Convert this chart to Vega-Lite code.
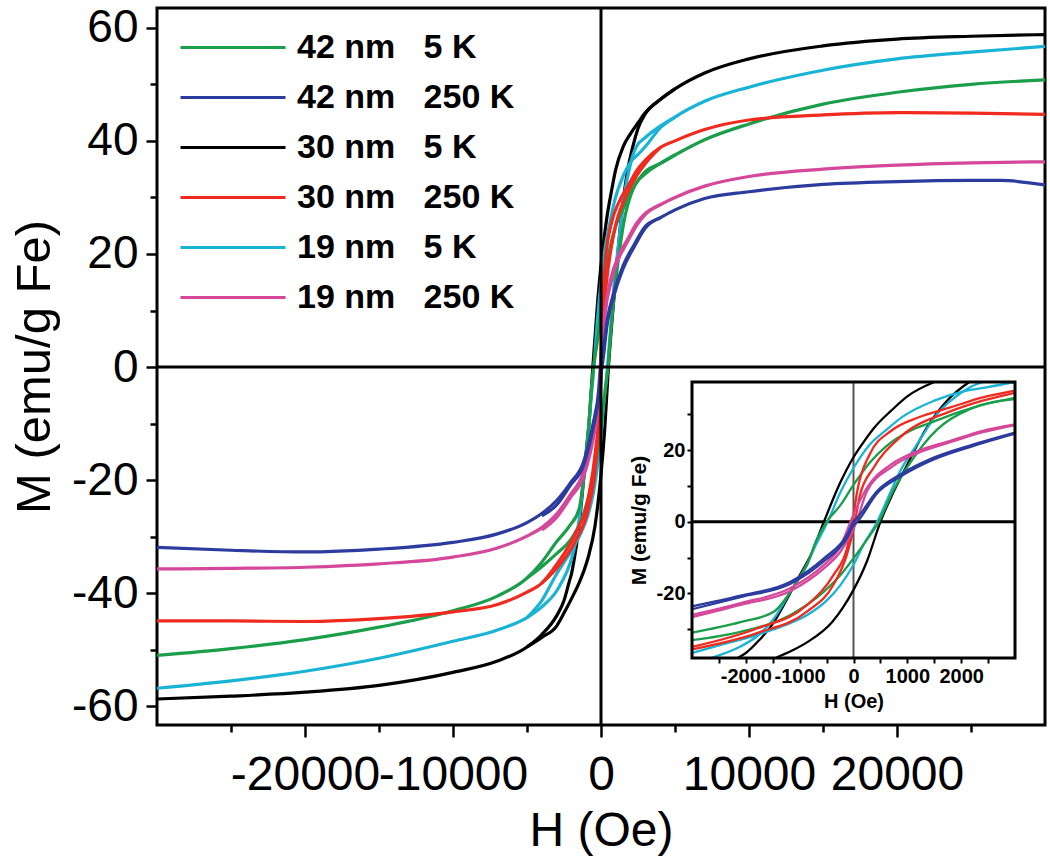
{
"$schema": "https://vega.github.io/schema/vega-lite/v6.json",
"width": 888, "height": 717,
"autosize": "none",
"padding": {"left": 157, "top": 8, "right": 5, "bottom": 140},
"config": {"font": "Liberation Sans", "view": {"stroke": "black", "strokeWidth": 3}, "axis": {"grid": false, "domain": false, "tickColor": "black", "labelColor": "black", "titleColor": "black"}},
"datasets": {"loops": [
{"s":"30 nm\u00a0\u00a0 5 K","b":"d","H":30000,"M":58.8},{"s":"30 nm\u00a0\u00a0 5 K","b":"d","H":25000,"M":58.5},{"s":"30 nm\u00a0\u00a0 5 K","b":"d","H":20000,"M":58.0},{"s":"30 nm\u00a0\u00a0 5 K","b":"d","H":15000,"M":56.8},{"s":"30 nm\u00a0\u00a0 5 K","b":"d","H":10000,"M":54.5},{"s":"30 nm\u00a0\u00a0 5 K","b":"d","H":7000,"M":52},{"s":"30 nm\u00a0\u00a0 5 K","b":"d","H":5000,"M":49.2},{"s":"30 nm\u00a0\u00a0 5 K","b":"d","H":4000,"M":47.3},{"s":"30 nm\u00a0\u00a0 5 K","b":"d","H":3000,"M":45},{"s":"30 nm\u00a0\u00a0 5 K","b":"d","H":2500,"M":43.2},{"s":"30 nm\u00a0\u00a0 5 K","b":"d","H":2000,"M":41.3},{"s":"30 nm\u00a0\u00a0 5 K","b":"d","H":1500,"M":39},{"s":"30 nm\u00a0\u00a0 5 K","b":"d","H":1000,"M":35},{"s":"30 nm\u00a0\u00a0 5 K","b":"d","H":700,"M":31},{"s":"30 nm\u00a0\u00a0 5 K","b":"d","H":400,"M":26.5},{"s":"30 nm\u00a0\u00a0 5 K","b":"d","H":200,"M":22.5},{"s":"30 nm\u00a0\u00a0 5 K","b":"d","H":0,"M":18},{"s":"30 nm\u00a0\u00a0 5 K","b":"d","H":-250,"M":10.8},{"s":"30 nm\u00a0\u00a0 5 K","b":"d","H":-550,"M":0},{"s":"30 nm\u00a0\u00a0 5 K","b":"d","H":-800,"M":-9.5},{"s":"30 nm\u00a0\u00a0 5 K","b":"d","H":-1000,"M":-15},{"s":"30 nm\u00a0\u00a0 5 K","b":"d","H":-1250,"M":-22},{"s":"30 nm\u00a0\u00a0 5 K","b":"d","H":-1500,"M":-28.5},{"s":"30 nm\u00a0\u00a0 5 K","b":"d","H":-1750,"M":-33},{"s":"30 nm\u00a0\u00a0 5 K","b":"d","H":-2000,"M":-36.6},{"s":"30 nm\u00a0\u00a0 5 K","b":"d","H":-2150,"M":-38},{"s":"30 nm\u00a0\u00a0 5 K","b":"d","H":-2500,"M":-41.3},{"s":"30 nm\u00a0\u00a0 5 K","b":"d","H":-3000,"M":-44},{"s":"30 nm\u00a0\u00a0 5 K","b":"d","H":-4000,"M":-47.3},{"s":"30 nm\u00a0\u00a0 5 K","b":"d","H":-5000,"M":-49.5},{"s":"30 nm\u00a0\u00a0 5 K","b":"d","H":-7000,"M":-52},{"s":"30 nm\u00a0\u00a0 5 K","b":"d","H":-10000,"M":-54},{"s":"30 nm\u00a0\u00a0 5 K","b":"d","H":-15000,"M":-56.3},{"s":"30 nm\u00a0\u00a0 5 K","b":"d","H":-20000,"M":-57.5},{"s":"30 nm\u00a0\u00a0 5 K","b":"d","H":-25000,"M":-58.2},{"s":"30 nm\u00a0\u00a0 5 K","b":"d","H":-30000,"M":-58.7},
{"s":"30 nm\u00a0\u00a0 5 K","b":"a","H":-5000,"M":-49.5},{"s":"30 nm\u00a0\u00a0 5 K","b":"a","H":-4000,"M":-47.8},{"s":"30 nm\u00a0\u00a0 5 K","b":"a","H":-3000,"M":-45.8},{"s":"30 nm\u00a0\u00a0 5 K","b":"a","H":-2500,"M":-43.5},{"s":"30 nm\u00a0\u00a0 5 K","b":"a","H":-2000,"M":-41},{"s":"30 nm\u00a0\u00a0 5 K","b":"a","H":-1450,"M":-38},{"s":"30 nm\u00a0\u00a0 5 K","b":"a","H":-1150,"M":-36},{"s":"30 nm\u00a0\u00a0 5 K","b":"a","H":-850,"M":-33.5},{"s":"30 nm\u00a0\u00a0 5 K","b":"a","H":-400,"M":-28},{"s":"30 nm\u00a0\u00a0 5 K","b":"a","H":-200,"M":-24},{"s":"30 nm\u00a0\u00a0 5 K","b":"a","H":0,"M":-19},{"s":"30 nm\u00a0\u00a0 5 K","b":"a","H":250,"M":-11},{"s":"30 nm\u00a0\u00a0 5 K","b":"a","H":500,"M":0},{"s":"30 nm\u00a0\u00a0 5 K","b":"a","H":750,"M":8.5},{"s":"30 nm\u00a0\u00a0 5 K","b":"a","H":1000,"M":16},{"s":"30 nm\u00a0\u00a0 5 K","b":"a","H":1350,"M":26},{"s":"30 nm\u00a0\u00a0 5 K","b":"a","H":1750,"M":34},{"s":"30 nm\u00a0\u00a0 5 K","b":"a","H":2150,"M":39},{"s":"30 nm\u00a0\u00a0 5 K","b":"a","H":2500,"M":42.2},{"s":"30 nm\u00a0\u00a0 5 K","b":"a","H":3000,"M":44.8},{"s":"30 nm\u00a0\u00a0 5 K","b":"a","H":4000,"M":47.3},{"s":"30 nm\u00a0\u00a0 5 K","b":"a","H":5000,"M":49.2},
{"s":"19 nm\u00a0\u00a0 5 K","b":"d","H":30000,"M":56.7},{"s":"19 nm\u00a0\u00a0 5 K","b":"d","H":25000,"M":55.7},{"s":"19 nm\u00a0\u00a0 5 K","b":"d","H":20000,"M":54.5},{"s":"19 nm\u00a0\u00a0 5 K","b":"d","H":15000,"M":52.5},{"s":"19 nm\u00a0\u00a0 5 K","b":"d","H":10000,"M":49.5},{"s":"19 nm\u00a0\u00a0 5 K","b":"d","H":7000,"M":47},{"s":"19 nm\u00a0\u00a0 5 K","b":"d","H":5000,"M":44.2},{"s":"19 nm\u00a0\u00a0 5 K","b":"d","H":4000,"M":42.3},{"s":"19 nm\u00a0\u00a0 5 K","b":"d","H":3000,"M":39},{"s":"19 nm\u00a0\u00a0 5 K","b":"d","H":2500,"M":37.6},{"s":"19 nm\u00a0\u00a0 5 K","b":"d","H":2100,"M":36.6},{"s":"19 nm\u00a0\u00a0 5 K","b":"d","H":1500,"M":33.8},{"s":"19 nm\u00a0\u00a0 5 K","b":"d","H":900,"M":29.2},{"s":"19 nm\u00a0\u00a0 5 K","b":"d","H":600,"M":25.5},{"s":"19 nm\u00a0\u00a0 5 K","b":"d","H":300,"M":21.5},{"s":"19 nm\u00a0\u00a0 5 K","b":"d","H":0,"M":15},{"s":"19 nm\u00a0\u00a0 5 K","b":"d","H":-250,"M":8},{"s":"19 nm\u00a0\u00a0 5 K","b":"d","H":-480,"M":0},{"s":"19 nm\u00a0\u00a0 5 K","b":"d","H":-700,"M":-6.5},{"s":"19 nm\u00a0\u00a0 5 K","b":"d","H":-870,"M":-12},{"s":"19 nm\u00a0\u00a0 5 K","b":"d","H":-1000,"M":-15.5},{"s":"19 nm\u00a0\u00a0 5 K","b":"d","H":-1170,"M":-19.5},{"s":"19 nm\u00a0\u00a0 5 K","b":"d","H":-1480,"M":-27},{"s":"19 nm\u00a0\u00a0 5 K","b":"d","H":-1800,"M":-32},{"s":"19 nm\u00a0\u00a0 5 K","b":"d","H":-2100,"M":-34.8},{"s":"19 nm\u00a0\u00a0 5 K","b":"d","H":-2650,"M":-38},{"s":"19 nm\u00a0\u00a0 5 K","b":"d","H":-3000,"M":-39.6},{"s":"19 nm\u00a0\u00a0 5 K","b":"d","H":-4000,"M":-42.4},{"s":"19 nm\u00a0\u00a0 5 K","b":"d","H":-5000,"M":-44.3},{"s":"19 nm\u00a0\u00a0 5 K","b":"d","H":-7000,"M":-46.5},{"s":"19 nm\u00a0\u00a0 5 K","b":"d","H":-10000,"M":-48.5},{"s":"19 nm\u00a0\u00a0 5 K","b":"d","H":-15000,"M":-51.5},{"s":"19 nm\u00a0\u00a0 5 K","b":"d","H":-20000,"M":-53.8},{"s":"19 nm\u00a0\u00a0 5 K","b":"d","H":-25000,"M":-55.5},{"s":"19 nm\u00a0\u00a0 5 K","b":"d","H":-30000,"M":-56.8},
{"s":"19 nm\u00a0\u00a0 5 K","b":"a","H":-5000,"M":-44.3},{"s":"19 nm\u00a0\u00a0 5 K","b":"a","H":-4000,"M":-41.3},{"s":"19 nm\u00a0\u00a0 5 K","b":"a","H":-3000,"M":-36.6},{"s":"19 nm\u00a0\u00a0 5 K","b":"a","H":-2500,"M":-34.5},{"s":"19 nm\u00a0\u00a0 5 K","b":"a","H":-1800,"M":-31.6},{"s":"19 nm\u00a0\u00a0 5 K","b":"a","H":-1300,"M":-29},{"s":"19 nm\u00a0\u00a0 5 K","b":"a","H":-860,"M":-26},{"s":"19 nm\u00a0\u00a0 5 K","b":"a","H":-500,"M":-22},{"s":"19 nm\u00a0\u00a0 5 K","b":"a","H":-240,"M":-17.6},{"s":"19 nm\u00a0\u00a0 5 K","b":"a","H":0,"M":-12},{"s":"19 nm\u00a0\u00a0 5 K","b":"a","H":200,"M":-6},{"s":"19 nm\u00a0\u00a0 5 K","b":"a","H":440,"M":0},{"s":"19 nm\u00a0\u00a0 5 K","b":"a","H":650,"M":7},{"s":"19 nm\u00a0\u00a0 5 K","b":"a","H":870,"M":14.2},{"s":"19 nm\u00a0\u00a0 5 K","b":"a","H":1180,"M":21.6},{"s":"19 nm\u00a0\u00a0 5 K","b":"a","H":1550,"M":30},{"s":"19 nm\u00a0\u00a0 5 K","b":"a","H":2000,"M":36},{"s":"19 nm\u00a0\u00a0 5 K","b":"a","H":2200,"M":37.8},{"s":"19 nm\u00a0\u00a0 5 K","b":"a","H":2400,"M":39},{"s":"19 nm\u00a0\u00a0 5 K","b":"a","H":3000,"M":40.6},{"s":"19 nm\u00a0\u00a0 5 K","b":"a","H":4000,"M":42.6},{"s":"19 nm\u00a0\u00a0 5 K","b":"a","H":5000,"M":44.2},
{"s":"42 nm\u00a0\u00a0 5 K","b":"d","H":30000,"M":50.8},{"s":"42 nm\u00a0\u00a0 5 K","b":"d","H":25000,"M":50},{"s":"42 nm\u00a0\u00a0 5 K","b":"d","H":20000,"M":48.6},{"s":"42 nm\u00a0\u00a0 5 K","b":"d","H":15000,"M":46.5},{"s":"42 nm\u00a0\u00a0 5 K","b":"d","H":10000,"M":43},{"s":"42 nm\u00a0\u00a0 5 K","b":"d","H":7000,"M":40.2},{"s":"42 nm\u00a0\u00a0 5 K","b":"d","H":5000,"M":37.5},{"s":"42 nm\u00a0\u00a0 5 K","b":"d","H":4000,"M":36},{"s":"42 nm\u00a0\u00a0 5 K","b":"d","H":3000,"M":34.6},{"s":"42 nm\u00a0\u00a0 5 K","b":"d","H":2500,"M":33},{"s":"42 nm\u00a0\u00a0 5 K","b":"d","H":2000,"M":30.8},{"s":"42 nm\u00a0\u00a0 5 K","b":"d","H":1500,"M":28},{"s":"42 nm\u00a0\u00a0 5 K","b":"d","H":1000,"M":25},{"s":"42 nm\u00a0\u00a0 5 K","b":"d","H":600,"M":21},{"s":"42 nm\u00a0\u00a0 5 K","b":"d","H":300,"M":16.5},{"s":"42 nm\u00a0\u00a0 5 K","b":"d","H":0,"M":10.3},{"s":"42 nm\u00a0\u00a0 5 K","b":"d","H":-250,"M":4.5},{"s":"42 nm\u00a0\u00a0 5 K","b":"d","H":-500,"M":0},{"s":"42 nm\u00a0\u00a0 5 K","b":"d","H":-700,"M":-5.5},{"s":"42 nm\u00a0\u00a0 5 K","b":"d","H":-860,"M":-12},{"s":"42 nm\u00a0\u00a0 5 K","b":"d","H":-1000,"M":-15.5},{"s":"42 nm\u00a0\u00a0 5 K","b":"d","H":-1170,"M":-19.5},{"s":"42 nm\u00a0\u00a0 5 K","b":"d","H":-1480,"M":-25.1},{"s":"42 nm\u00a0\u00a0 5 K","b":"d","H":-2100,"M":-28},{"s":"42 nm\u00a0\u00a0 5 K","b":"d","H":-3000,"M":-30.9},{"s":"42 nm\u00a0\u00a0 5 K","b":"d","H":-4000,"M":-34.5},{"s":"42 nm\u00a0\u00a0 5 K","b":"d","H":-5000,"M":-37.3},{"s":"42 nm\u00a0\u00a0 5 K","b":"d","H":-7000,"M":-40.5},{"s":"42 nm\u00a0\u00a0 5 K","b":"d","H":-10000,"M":-43.1},{"s":"42 nm\u00a0\u00a0 5 K","b":"d","H":-15000,"M":-46},{"s":"42 nm\u00a0\u00a0 5 K","b":"d","H":-20000,"M":-48.2},{"s":"42 nm\u00a0\u00a0 5 K","b":"d","H":-25000,"M":-49.8},{"s":"42 nm\u00a0\u00a0 5 K","b":"d","H":-30000,"M":-51},
{"s":"42 nm\u00a0\u00a0 5 K","b":"a","H":-5000,"M":-37.3},{"s":"42 nm\u00a0\u00a0 5 K","b":"a","H":-4000,"M":-35.3},{"s":"42 nm\u00a0\u00a0 5 K","b":"a","H":-3000,"M":-33},{"s":"42 nm\u00a0\u00a0 5 K","b":"a","H":-2100,"M":-30.7},{"s":"42 nm\u00a0\u00a0 5 K","b":"a","H":-1170,"M":-26},{"s":"42 nm\u00a0\u00a0 5 K","b":"a","H":-550,"M":-19.5},{"s":"42 nm\u00a0\u00a0 5 K","b":"a","H":-250,"M":-15},{"s":"42 nm\u00a0\u00a0 5 K","b":"a","H":0,"M":-10.2},{"s":"42 nm\u00a0\u00a0 5 K","b":"a","H":250,"M":-5},{"s":"42 nm\u00a0\u00a0 5 K","b":"a","H":470,"M":0},{"s":"42 nm\u00a0\u00a0 5 K","b":"a","H":750,"M":9},{"s":"42 nm\u00a0\u00a0 5 K","b":"a","H":1050,"M":16.4},{"s":"42 nm\u00a0\u00a0 5 K","b":"a","H":1550,"M":25.7},{"s":"42 nm\u00a0\u00a0 5 K","b":"a","H":2170,"M":31.5},{"s":"42 nm\u00a0\u00a0 5 K","b":"a","H":3000,"M":34.2},{"s":"42 nm\u00a0\u00a0 5 K","b":"a","H":4000,"M":36},{"s":"42 nm\u00a0\u00a0 5 K","b":"a","H":5000,"M":37.5},
{"s":"30 nm\u00a0\u00a0 250 K","b":"d","H":30000,"M":44.7},{"s":"30 nm\u00a0\u00a0 250 K","b":"d","H":25000,"M":44.9},{"s":"30 nm\u00a0\u00a0 250 K","b":"d","H":20000,"M":45},{"s":"30 nm\u00a0\u00a0 250 K","b":"d","H":15000,"M":44.6},{"s":"30 nm\u00a0\u00a0 250 K","b":"d","H":10000,"M":43.7},{"s":"30 nm\u00a0\u00a0 250 K","b":"d","H":7000,"M":42},{"s":"30 nm\u00a0\u00a0 250 K","b":"d","H":5000,"M":40},{"s":"30 nm\u00a0\u00a0 250 K","b":"d","H":4000,"M":38.8},{"s":"30 nm\u00a0\u00a0 250 K","b":"d","H":3000,"M":36.6},{"s":"30 nm\u00a0\u00a0 250 K","b":"d","H":2400,"M":34.7},{"s":"30 nm\u00a0\u00a0 250 K","b":"d","H":1800,"M":31.9},{"s":"30 nm\u00a0\u00a0 250 K","b":"d","H":1200,"M":29.1},{"s":"30 nm\u00a0\u00a0 250 K","b":"d","H":700,"M":25.4},{"s":"30 nm\u00a0\u00a0 250 K","b":"d","H":300,"M":18.8},{"s":"30 nm\u00a0\u00a0 250 K","b":"d","H":70,"M":8.6},{"s":"30 nm\u00a0\u00a0 250 K","b":"d","H":0,"M":2},{"s":"30 nm\u00a0\u00a0 250 K","b":"d","H":-120,"M":-7.4},{"s":"30 nm\u00a0\u00a0 250 K","b":"d","H":-370,"M":-14.8},{"s":"30 nm\u00a0\u00a0 250 K","b":"d","H":-860,"M":-23.2},{"s":"30 nm\u00a0\u00a0 250 K","b":"d","H":-1780,"M":-29.7},{"s":"30 nm\u00a0\u00a0 250 K","b":"d","H":-3000,"M":-34.9},{"s":"30 nm\u00a0\u00a0 250 K","b":"d","H":-4000,"M":-38.2},{"s":"30 nm\u00a0\u00a0 250 K","b":"d","H":-5000,"M":-39.8},{"s":"30 nm\u00a0\u00a0 250 K","b":"d","H":-7000,"M":-42},{"s":"30 nm\u00a0\u00a0 250 K","b":"d","H":-10000,"M":-43.3},{"s":"30 nm\u00a0\u00a0 250 K","b":"d","H":-15000,"M":-44.5},{"s":"30 nm\u00a0\u00a0 250 K","b":"d","H":-20000,"M":-45},{"s":"30 nm\u00a0\u00a0 250 K","b":"d","H":-25000,"M":-44.9},{"s":"30 nm\u00a0\u00a0 250 K","b":"d","H":-30000,"M":-44.9},
{"s":"30 nm\u00a0\u00a0 250 K","b":"a","H":-4000,"M":-38.2},{"s":"30 nm\u00a0\u00a0 250 K","b":"a","H":-3000,"M":-35.6},{"s":"30 nm\u00a0\u00a0 250 K","b":"a","H":-1780,"M":-31},{"s":"30 nm\u00a0\u00a0 250 K","b":"a","H":-860,"M":-25},{"s":"30 nm\u00a0\u00a0 250 K","b":"a","H":-370,"M":-17.5},{"s":"30 nm\u00a0\u00a0 250 K","b":"a","H":-120,"M":-9},{"s":"30 nm\u00a0\u00a0 250 K","b":"a","H":0,"M":-2},{"s":"30 nm\u00a0\u00a0 250 K","b":"a","H":120,"M":7.4},{"s":"30 nm\u00a0\u00a0 250 K","b":"a","H":370,"M":15},{"s":"30 nm\u00a0\u00a0 250 K","b":"a","H":860,"M":23.5},{"s":"30 nm\u00a0\u00a0 250 K","b":"a","H":1800,"M":30.8},{"s":"30 nm\u00a0\u00a0 250 K","b":"a","H":2400,"M":33.8},{"s":"30 nm\u00a0\u00a0 250 K","b":"a","H":3000,"M":36},{"s":"30 nm\u00a0\u00a0 250 K","b":"a","H":4000,"M":38.8},
{"s":"19 nm\u00a0\u00a0 250 K","b":"d","H":30000,"M":36.3},{"s":"19 nm\u00a0\u00a0 250 K","b":"d","H":25000,"M":36.1},{"s":"19 nm\u00a0\u00a0 250 K","b":"d","H":20000,"M":35.7},{"s":"19 nm\u00a0\u00a0 250 K","b":"d","H":15000,"M":35},{"s":"19 nm\u00a0\u00a0 250 K","b":"d","H":10000,"M":33.7},{"s":"19 nm\u00a0\u00a0 250 K","b":"d","H":7000,"M":32},{"s":"19 nm\u00a0\u00a0 250 K","b":"d","H":5000,"M":30},{"s":"19 nm\u00a0\u00a0 250 K","b":"d","H":4000,"M":28.7},{"s":"19 nm\u00a0\u00a0 250 K","b":"d","H":3000,"M":27.2},{"s":"19 nm\u00a0\u00a0 250 K","b":"d","H":2400,"M":25.4},{"s":"19 nm\u00a0\u00a0 250 K","b":"d","H":1800,"M":22.6},{"s":"19 nm\u00a0\u00a0 250 K","b":"d","H":1200,"M":19.8},{"s":"19 nm\u00a0\u00a0 250 K","b":"d","H":700,"M":16},{"s":"19 nm\u00a0\u00a0 250 K","b":"d","H":250,"M":9.5},{"s":"19 nm\u00a0\u00a0 250 K","b":"d","H":0,"M":2},{"s":"19 nm\u00a0\u00a0 250 K","b":"d","H":-55,"M":0},{"s":"19 nm\u00a0\u00a0 250 K","b":"d","H":-250,"M":-7},{"s":"19 nm\u00a0\u00a0 250 K","b":"d","H":-550,"M":-12},{"s":"19 nm\u00a0\u00a0 250 K","b":"d","H":-1170,"M":-18.5},{"s":"19 nm\u00a0\u00a0 250 K","b":"d","H":-2100,"M":-22.7},{"s":"19 nm\u00a0\u00a0 250 K","b":"d","H":-3000,"M":-26},{"s":"19 nm\u00a0\u00a0 250 K","b":"d","H":-4000,"M":-28.4},{"s":"19 nm\u00a0\u00a0 250 K","b":"d","H":-5000,"M":-29.9},{"s":"19 nm\u00a0\u00a0 250 K","b":"d","H":-7000,"M":-32},{"s":"19 nm\u00a0\u00a0 250 K","b":"d","H":-10000,"M":-33.6},{"s":"19 nm\u00a0\u00a0 250 K","b":"d","H":-15000,"M":-34.8},{"s":"19 nm\u00a0\u00a0 250 K","b":"d","H":-20000,"M":-35.4},{"s":"19 nm\u00a0\u00a0 250 K","b":"d","H":-25000,"M":-35.6},{"s":"19 nm\u00a0\u00a0 250 K","b":"d","H":-30000,"M":-35.7},
{"s":"19 nm\u00a0\u00a0 250 K","b":"a","H":-4000,"M":-28.8},{"s":"19 nm\u00a0\u00a0 250 K","b":"a","H":-3000,"M":-26.6},{"s":"19 nm\u00a0\u00a0 250 K","b":"a","H":-2100,"M":-23.2},{"s":"19 nm\u00a0\u00a0 250 K","b":"a","H":-1170,"M":-19.3},{"s":"19 nm\u00a0\u00a0 250 K","b":"a","H":-550,"M":-13},{"s":"19 nm\u00a0\u00a0 250 K","b":"a","H":-250,"M":-8.5},{"s":"19 nm\u00a0\u00a0 250 K","b":"a","H":0,"M":-2},{"s":"19 nm\u00a0\u00a0 250 K","b":"a","H":55,"M":0},{"s":"19 nm\u00a0\u00a0 250 K","b":"a","H":250,"M":8.5},{"s":"19 nm\u00a0\u00a0 250 K","b":"a","H":700,"M":15.2},{"s":"19 nm\u00a0\u00a0 250 K","b":"a","H":1200,"M":19.2},{"s":"19 nm\u00a0\u00a0 250 K","b":"a","H":1800,"M":22.2},{"s":"19 nm\u00a0\u00a0 250 K","b":"a","H":2400,"M":25},{"s":"19 nm\u00a0\u00a0 250 K","b":"a","H":3000,"M":27},{"s":"19 nm\u00a0\u00a0 250 K","b":"a","H":4000,"M":28.7},
{"s":"42 nm\u00a0\u00a0 250 K","b":"d","H":30000,"M":32.2},{"s":"42 nm\u00a0\u00a0 250 K","b":"d","H":27000,"M":33},{"s":"42 nm\u00a0\u00a0 250 K","b":"d","H":25000,"M":33},{"s":"42 nm\u00a0\u00a0 250 K","b":"d","H":20000,"M":32.8},{"s":"42 nm\u00a0\u00a0 250 K","b":"d","H":15000,"M":32.3},{"s":"42 nm\u00a0\u00a0 250 K","b":"d","H":10000,"M":31},{"s":"42 nm\u00a0\u00a0 250 K","b":"d","H":7000,"M":29.8},{"s":"42 nm\u00a0\u00a0 250 K","b":"d","H":5000,"M":27.8},{"s":"42 nm\u00a0\u00a0 250 K","b":"d","H":4000,"M":26.4},{"s":"42 nm\u00a0\u00a0 250 K","b":"d","H":3000,"M":24.9},{"s":"42 nm\u00a0\u00a0 250 K","b":"d","H":2230,"M":21.6},{"s":"42 nm\u00a0\u00a0 250 K","b":"d","H":1490,"M":17.9},{"s":"42 nm\u00a0\u00a0 250 K","b":"d","H":870,"M":13.2},{"s":"42 nm\u00a0\u00a0 250 K","b":"d","H":440,"M":8.6},{"s":"42 nm\u00a0\u00a0 250 K","b":"d","H":70,"M":1.1},{"s":"42 nm\u00a0\u00a0 250 K","b":"d","H":0,"M":0},{"s":"42 nm\u00a0\u00a0 250 K","b":"d","H":-120,"M":-3.6},{"s":"42 nm\u00a0\u00a0 250 K","b":"d","H":-550,"M":-10.2},{"s":"42 nm\u00a0\u00a0 250 K","b":"d","H":-1170,"M":-16.7},{"s":"42 nm\u00a0\u00a0 250 K","b":"d","H":-2100,"M":-20.6},{"s":"42 nm\u00a0\u00a0 250 K","b":"d","H":-3000,"M":-23.6},{"s":"42 nm\u00a0\u00a0 250 K","b":"d","H":-4000,"M":-25.9},{"s":"42 nm\u00a0\u00a0 250 K","b":"d","H":-5000,"M":-27.5},{"s":"42 nm\u00a0\u00a0 250 K","b":"d","H":-7000,"M":-29.5},{"s":"42 nm\u00a0\u00a0 250 K","b":"d","H":-10000,"M":-31},{"s":"42 nm\u00a0\u00a0 250 K","b":"d","H":-15000,"M":-32.2},{"s":"42 nm\u00a0\u00a0 250 K","b":"d","H":-20000,"M":-32.7},{"s":"42 nm\u00a0\u00a0 250 K","b":"d","H":-25000,"M":-32.4},{"s":"42 nm\u00a0\u00a0 250 K","b":"d","H":-30000,"M":-31.9},
{"s":"42 nm\u00a0\u00a0 250 K","b":"a","H":-4000,"M":-26.3},{"s":"42 nm\u00a0\u00a0 250 K","b":"a","H":-3000,"M":-24.4},{"s":"42 nm\u00a0\u00a0 250 K","b":"a","H":-2100,"M":-21},{"s":"42 nm\u00a0\u00a0 250 K","b":"a","H":-1170,"M":-17.3},{"s":"42 nm\u00a0\u00a0 250 K","b":"a","H":-550,"M":-11},{"s":"42 nm\u00a0\u00a0 250 K","b":"a","H":-120,"M":-4.5},{"s":"42 nm\u00a0\u00a0 250 K","b":"a","H":0,"M":-1},{"s":"42 nm\u00a0\u00a0 250 K","b":"a","H":70,"M":0},{"s":"42 nm\u00a0\u00a0 250 K","b":"a","H":440,"M":8},{"s":"42 nm\u00a0\u00a0 250 K","b":"a","H":870,"M":12.6},{"s":"42 nm\u00a0\u00a0 250 K","b":"a","H":1490,"M":17.4},{"s":"42 nm\u00a0\u00a0 250 K","b":"a","H":2230,"M":21.2},{"s":"42 nm\u00a0\u00a0 250 K","b":"a","H":3000,"M":24.6},{"s":"42 nm\u00a0\u00a0 250 K","b":"a","H":4000,"M":26.4}
]},
"resolve": {"scale": {"x": "independent", "y": "independent"}, "axis": {"x": "independent", "y": "independent"}},
"layer": [
 {"layer": [
  {"data": {"name": "loops"},
   "mark": {"type": "line", "strokeWidth": 3.2, "clip": true, "interpolate": "monotone"},
   "encoding": {
    "x": {"field": "H", "type": "quantitative",
      "scale": {"domain": [-30000, 30000], "nice": false, "zero": false},
      "axis": {"orient": "bottom", "values": [-25000,-20000,-15000,-10000,-5000,0,5000,10000,15000,20000,25000],
        "labelExpr": "datum.value % 10000 === 0 ? '' + datum.value : ''",
        "labelFontSize": 48, "labelPadding": 14, "labelOverlap": false, "labelFlush": false,
        "tickSize": {"condition": {"test": "datum.value % 10000 === 0", "value": 12}, "value": 7},
        "tickWidth": 2.5, "title": "H (Oe)", "titleFontSize": 48, "titleFontWeight": "normal", "titlePadding": 8}},
    "y": {"field": "M", "type": "quantitative",
      "scale": {"domain": [-63.3, 63.5], "nice": false, "zero": false},
      "axis": {"orient": "left", "values": [-60,-50,-40,-30,-20,-10,0,10,20,30,40,50,60],
        "labelExpr": "datum.value % 20 === 0 ? '' + datum.value : ''",
        "labelFontSize": 46, "labelPadding": 8, "labelOverlap": false, "labelFlush": false,
        "tickSize": {"condition": {"test": "datum.value % 20 === 0", "value": 11}, "value": 7},
        "tickWidth": 2.5, "title": "M (emu/g Fe)", "titleFontSize": 49, "titleFontWeight": "normal", "titlePadding": 12}},
    "color": {"field": "s", "type": "nominal",
      "scale": {"domain": ["42 nm\u00a0\u00a0 5 K","42 nm\u00a0\u00a0 250 K","30 nm\u00a0\u00a0 5 K","30 nm\u00a0\u00a0 250 K","19 nm\u00a0\u00a0 5 K","19 nm\u00a0\u00a0 250 K"],
                "range": ["#1a9e4a","#2c3b9e","#000000","#f02a1e","#19b3d6","#d4479b"]},
      "legend": {"orient": "none", "legendX": 22, "legendY": 17, "title": null, "symbolType": "M-1,0H4", "symbolSize": 1764,
        "symbolStrokeWidth": 3, "labelFontSize": 34, "labelFontWeight": "bold", "labelColor": "black", "labelOffset": 73, "labelLimit": 0, "rowPadding": 10}},
    "detail": {"field": "b"}
   }},
  {"data": {"values": [{}]}, "mark": {"type": "rule", "color": "black", "strokeWidth": 3}, "encoding": {"x": {"datum": 0, "type": "quantitative"}}},
  {"data": {"values": [{}]}, "mark": {"type": "rule", "color": "black", "strokeWidth": 3}, "encoding": {"y": {"datum": 0, "type": "quantitative"}}}
 ]},
 {"layer": [
  {"data": {"values": [{}]}, "mark": {"type": "rect", "fill": "white", "stroke": null},
   "encoding": {
    "x": {"datum": -3000, "type": "quantitative",
      "scale": {"domain": [-3000, 3000], "range": [535, 858], "nice": false, "zero": false},
      "axis": {"orient": "bottom", "offset": -67, "values": [-2500,-2000,-1500,-1000,-500,0,500,1000,1500,2000,2500],
        "labelExpr": "datum.value % 1000 === 0 ? '' + datum.value : ''",
        "labelFontSize": 20, "labelFontWeight": "bold", "labelPadding": 3, "labelOverlap": false, "labelFlush": false,
        "tickSize": 5, "tickWidth": 2, "title": "H (Oe)", "titleFontSize": 20, "titleFontWeight": "bold", "titlePadding": 5}},
    "x2": {"datum": 3000},
    "y": {"datum": -38, "type": "quantitative",
      "scale": {"domain": [-38, 39], "range": [650, 374], "nice": false, "zero": false},
      "axis": {"orient": "left", "offset": -535, "values": [-30,-20,-10,0,10,20,30],
        "labelExpr": "datum.value % 20 === 0 ? '' + datum.value : ''",
        "labelFontSize": 20, "labelFontWeight": "bold", "labelPadding": 2, "labelOverlap": false, "labelFlush": false,
        "tickSize": 5, "tickWidth": 2, "title": "M (emu/g Fe)", "titleFontSize": 21, "titleFontWeight": "bold", "titlePadding": 7}},
    "y2": {"datum": 39}
   }},
  {"data": {"values": [{}]}, "mark": {"type": "rule", "color": "#555555", "strokeWidth": 2},
   "encoding": {"x": {"datum": 0, "type": "quantitative"}, "y": {"datum": -38, "type": "quantitative"}, "y2": {"datum": 39}}},
  {"data": {"values": [{}]}, "mark": {"type": "rule", "color": "black", "strokeWidth": 3},
   "encoding": {"y": {"datum": 0, "type": "quantitative"}, "x": {"datum": -3000, "type": "quantitative"}, "x2": {"datum": 3000}}},
  {"data": {"name": "loops"},
   "transform": [{"filter": "datum.H >= -3000 && datum.H <= 3000 && datum.M >= -38 && datum.M <= 39"}],
   "mark": {"type": "line", "strokeWidth": 2.3, "interpolate": "monotone"},
   "encoding": {
    "x": {"field": "H", "type": "quantitative"},
    "y": {"field": "M", "type": "quantitative"},
    "color": {"field": "s", "type": "nominal"},
    "detail": {"field": "b"}
   }},
  {"data": {"values": [{}]}, "mark": {"type": "rect", "fill": null, "stroke": "black", "strokeWidth": 3},
   "encoding": {"x": {"datum": -3000, "type": "quantitative"}, "x2": {"datum": 3000}, "y": {"datum": -38, "type": "quantitative"}, "y2": {"datum": 39}}}
 ]}
]
}
